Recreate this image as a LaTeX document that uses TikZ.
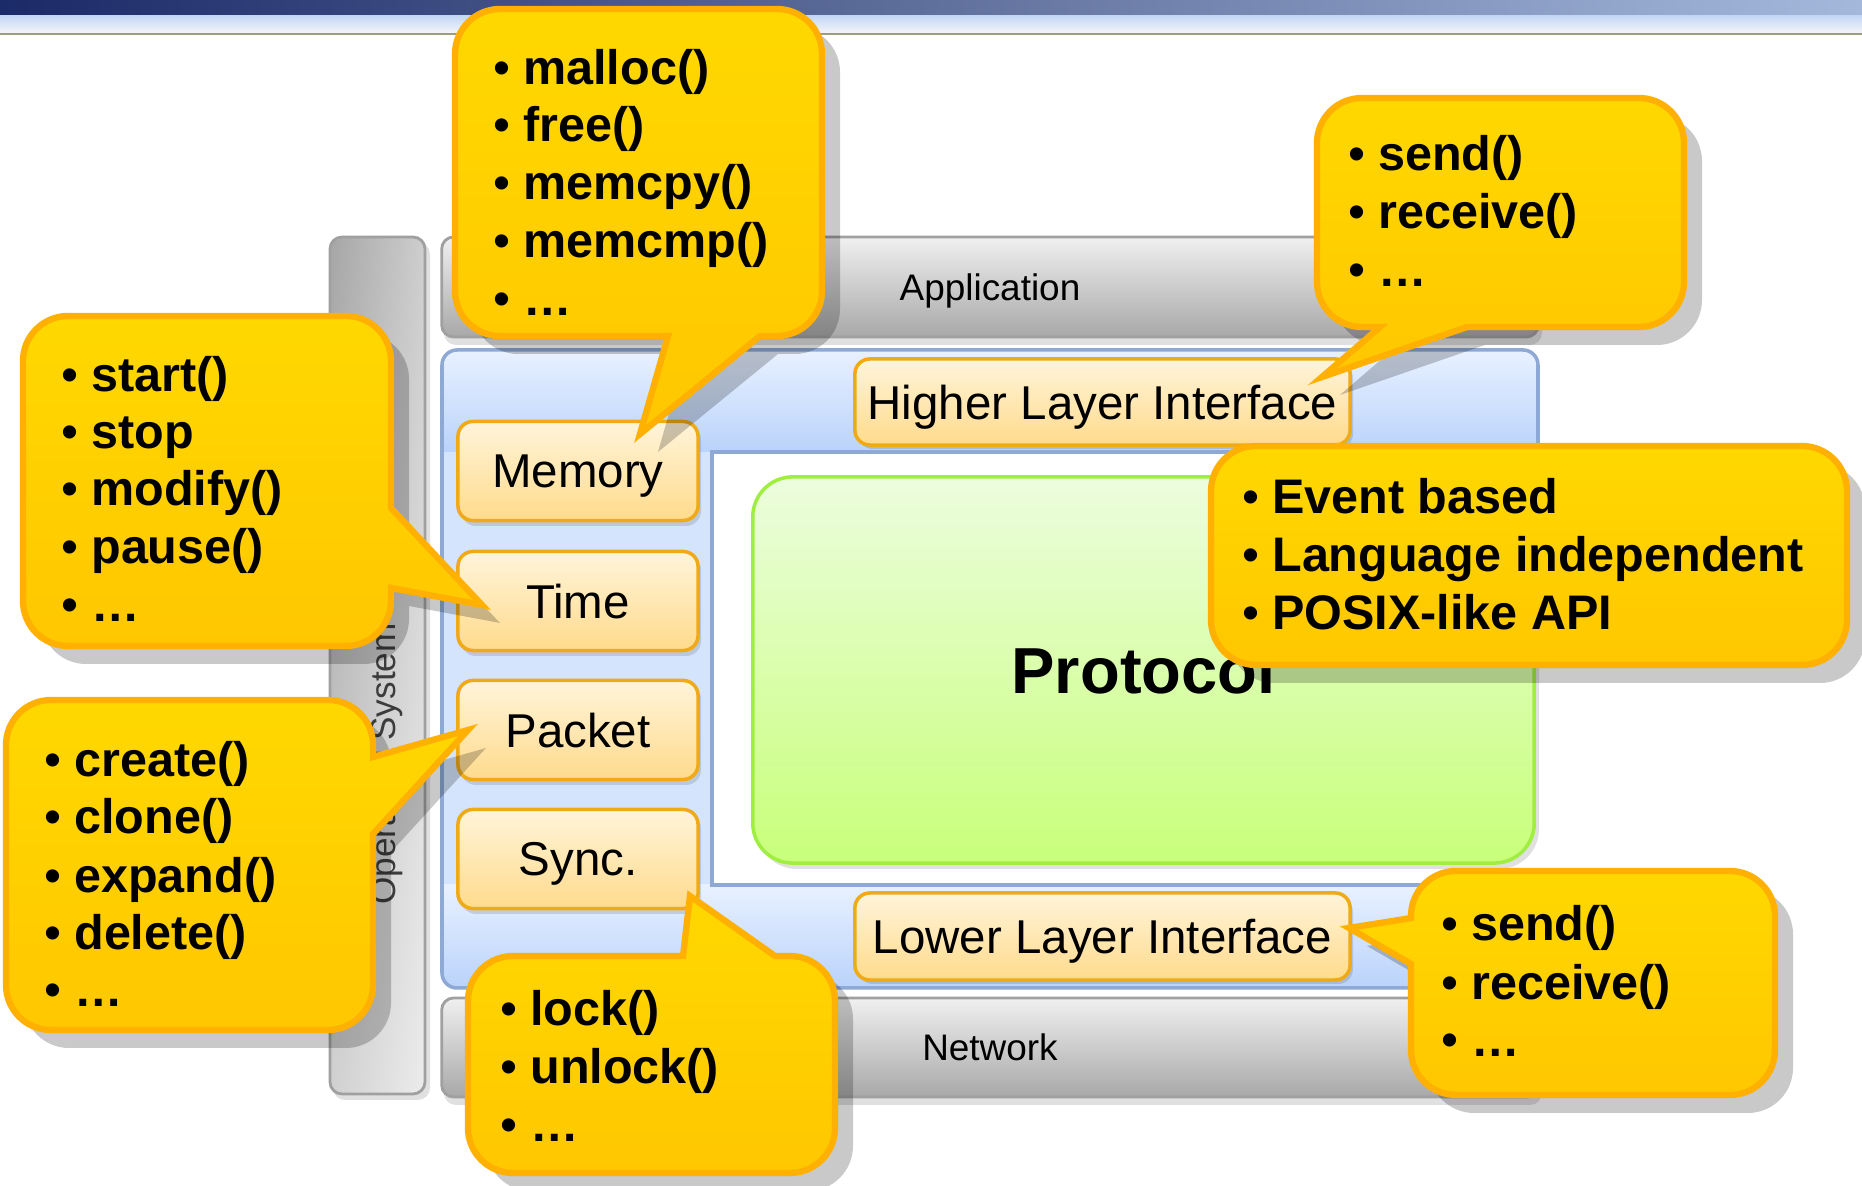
\documentclass[tikz,border=0pt]{standalone}
\usepackage{fontspec}
\setmainfont{Liberation Sans}
\usetikzlibrary{shadings}
\definecolor{hdrL}{RGB}{27,42,104}
\definecolor{hdrM}{RGB}{96,112,156}
\definecolor{hdrR}{RGB}{164,184,220}
\definecolor{bandT}{RGB}{196,216,246}
\definecolor{bandB}{RGB}{244,245,247}
\definecolor{oliveline}{RGB}{156,156,128}
\definecolor{grayT}{RGB}{240,240,240}
\definecolor{grayB}{RGB}{168,168,168}
\definecolor{grayE}{RGB}{160,160,160}
\definecolor{osUL}{RGB}{166,166,166}
\definecolor{osUR}{RGB}{206,206,206}
\definecolor{osLL}{RGB}{208,208,208}
\definecolor{osLR}{RGB}{236,236,236}
\definecolor{blueE}{RGB}{142,169,212}
\definecolor{blueT}{RGB}{232,241,255}
\definecolor{blueB}{RGB}{186,211,251}
\definecolor{blueM}{RGB}{212,228,252}
\definecolor{grnT}{RGB}{236,253,222}
\definecolor{grnB}{RGB}{200,255,122}
\definecolor{grnE}{RGB}{160,238,64}
\definecolor{ifT}{RGB}{255,244,218}
\definecolor{ifB}{RGB}{255,219,140}
\definecolor{ifE}{RGB}{240,170,24}
\definecolor{calT}{RGB}{255,216,0}
\definecolor{calB}{RGB}{255,199,0}
\definecolor{calE}{RGB}{255,176,0}
\definecolor{ostext}{RGB}{60,60,60}
\newcommand\bu{{\mdseries\textbullet}\hspace{3.6pt}}
\def\pathA{(638,9) -- (777,9) arc[start angle=-90,end angle=0,radius=45] -- (822,291) arc[start angle=0,end angle=90,radius=45] -- (760,336) -- (640,434) -- (668,336) -- (500,336) arc[start angle=90,end angle=180,radius=45] -- (455,54) arc[start angle=180,end angle=270,radius=45] -- cycle}
\def\pathB{(1500,98) -- (1639,98) arc[start angle=-90,end angle=0,radius=45] -- (1684,282) arc[start angle=0,end angle=90,radius=45] -- (1467,327) -- (1322,377) -- (1380,327) -- (1362,327) arc[start angle=90,end angle=180,radius=45] -- (1317,143) arc[start angle=180,end angle=270,radius=45] -- cycle}
\def\pathC{(200,316) -- (346,316) arc[start angle=-90,end angle=0,radius=45] -- (391,508) -- (482,605) -- (391,588) -- (391,601) arc[start angle=0,end angle=90,radius=45] -- (68,646) arc[start angle=90,end angle=180,radius=45] -- (23,361) arc[start angle=180,end angle=270,radius=45] -- cycle}
\def\pathD{(190,700) -- (328,700) arc[start angle=-90,end angle=0,radius=45] -- (373,757) -- (468,730) -- (373,834) -- (373,985) arc[start angle=0,end angle=90,radius=45] -- (51,1030) arc[start angle=90,end angle=180,radius=45] -- (6,745) arc[start angle=180,end angle=270,radius=45] -- cycle}
\def\pathE{(513,956) -- (683,956) -- (690,896) -- (775,956) -- (790,956) arc[start angle=-90,end angle=0,radius=45] -- (835,1128) arc[start angle=0,end angle=90,radius=45] -- (513,1173) arc[start angle=90,end angle=180,radius=45] -- (468,1001) arc[start angle=180,end angle=270,radius=45] -- cycle}
\def\pathF{[rounded corners=0.45cm] (1211,446) rectangle (1847,665)}
\def\pathG{(1600,871) -- (1730,871) arc[start angle=-90,end angle=0,radius=45] -- (1775,1050) arc[start angle=0,end angle=90,radius=45] -- (1456,1095) arc[start angle=90,end angle=180,radius=45] -- (1411,964) -- (1349,928) -- (1411,918) -- (1411,916) arc[start angle=180,end angle=270,radius=45] -- cycle}
\begin{document}
\begin{tikzpicture}[x=0.01cm,y=-0.01cm,
  ifbox/.style={draw=ifE, line width=1pt, rounded corners=0.15cm, top color=ifT, bottom color=ifB,
    font=\fontsize{13.5}{15}\selectfont, inner sep=0pt, text depth=0pt},
  graybar/.style={draw=grayE, line width=0.8pt, rounded corners=0.12cm, top color=grayT, bottom color=grayB,
    font=\fontsize{10.5}{12}\selectfont, inner sep=0pt, text depth=0pt},
  callout/.style={draw=calE, line width=1.8pt, top color=calT, bottom color=calB},
  cshadow/.style={fill=black, opacity=0.21},
  softshadow/.style={fill=black, opacity=0.12},
  ctext/.style={anchor=base west, inner sep=0pt, font=\fontsize{13.8}{16}\selectfont\bfseries}]
\useasboundingbox (0,0) rectangle (1862,1186);
\fill[white] (0,0) rectangle (1862,1186);
% header
\shade[left color=hdrL, right color=hdrR, middle color=hdrM] (0,0) rectangle (1862,16);
\shade[top color=bandT, bottom color=bandB] (0,16) rectangle (1862,33);
\fill[oliveline] (0,33) rectangle (1862,35.5);
% operating system bar
\fill[softshadow, rounded corners=0.12cm] (333,242) rectangle (430,1100);
\shade[upper left=osUL, upper right=osUR, lower left=osLL, lower right=osLR, rounded corners=0.12cm] (330,237) rectangle (425,1094);
\draw[grayE, line width=0.8pt, rounded corners=0.12cm] (330,237) rectangle (425,1094);
\node[rotate=90, text=ostext, font=\fontsize{10}{12}\selectfont, inner sep=0pt] (ostxt) at (386,764) {Operating System};
% application and network bars
\fill[softshadow, rounded corners=0.12cm] (444,243) rectangle (1542,345);
\node[graybar, minimum width=10.96cm, minimum height=1.0cm] (app) at (990,287) {Application};
\fill[softshadow, rounded corners=0.12cm] (444,1004) rectangle (1542,1105);
\node[graybar, minimum width=10.96cm, minimum height=0.99cm] (net) at (990,1047.5) {Network};
% blue frame
\begin{scope}
\clip[rounded corners=0.15cm] (442,350) rectangle (1538,988);
\fill[blueM] (442,350) rectangle (1538,988);
\shade[top color=blueT, bottom color=blueB] (442,350) rectangle (1538,452);
\shade[top color=blueT, bottom color=blueB] (442,885) rectangle (1538,988);
\end{scope}
\draw[blueE, line width=1pt, rounded corners=0.15cm] (442,350) rectangle (1538,988);
\fill[white] (712,452) rectangle (1560,885);
\draw[blueE, line width=1.3pt] (1538,452) -- (712,452) -- (712,885) -- (1538,885);
% protocol
\fill[softshadow, rounded corners=0.4cm] (757,482) rectangle (1539,869);
\node[draw=grnE, line width=1pt, rounded corners=0.4cm, top color=grnT, bottom color=grnB,
  minimum width=7.81cm, minimum height=3.86cm, inner sep=0pt,
  font=\fontsize{18.5}{20}\selectfont\bfseries] (proto) at (1143.5,670) {Protocol};
% interface boxes
\foreach \yy in {471,601,730,859} {\fill[softshadow, rounded corners=0.15cm] (461,\yy-46) rectangle (701,\yy+55);}
\fill[softshadow, rounded corners=0.15cm] (858,363) rectangle (1353,449);
\fill[softshadow, rounded corners=0.15cm] (858,897) rectangle (1353,984);
\node[ifbox, minimum width=2.40cm, minimum height=0.99cm] (mem) at (578,471) {Memory};
\node[ifbox, minimum width=2.40cm, minimum height=0.99cm] (time) at (578,601) {Time};
\node[ifbox, minimum width=2.40cm, minimum height=0.99cm] (pkt) at (578,730) {Packet};
\node[ifbox, minimum width=2.40cm, minimum height=0.99cm] (sync) at (578,859) {Sync.};
\node[ifbox, minimum width=4.95cm, minimum height=0.86cm] (hli) at (1102.5,402) {Higher Layer Interface};
\node[ifbox, minimum width=4.95cm, minimum height=0.87cm] (lli) at (1102.5,936.5) {Lower Layer Interface};
% callouts
\fill[cshadow, shift={(18,18)}] \pathA;
\path[callout] \pathA;
\node[ctext] (a1) at (493,85) {\bu malloc()};
\node[ctext] (a2) at (493,142) {\bu free()};
\node[ctext] (a3) at (493,200) {\bu memcpy()};
\node[ctext] (a4) at (493,258) {\bu memcmp()};
\node[ctext] (a5) at (493,316) {\bu\textellipsis};
\fill[cshadow, shift={(18,18)}] \pathB;
\path[callout] \pathB;
\node[ctext] (b1) at (1348,171) {\bu send()};
\node[ctext] (b2) at (1348,229) {\bu receive()};
\node[ctext] (b3) at (1348,287) {\bu\textellipsis};
\fill[cshadow, shift={(18,18)}] \pathC;
\path[callout] \pathC;
\node[ctext] (c1) at (61,392) {\bu start()};
\node[ctext] (c2) at (61,449) {\bu stop};
\node[ctext] (c3) at (61,506) {\bu modify()};
\node[ctext] (c4) at (61,564) {\bu pause()};
\node[ctext] (c5) at (61,622) {\bu\textellipsis};
\fill[cshadow, shift={(18,18)}] \pathD;
\path[callout] \pathD;
\node[ctext] (d1) at (44,777) {\bu create()};
\node[ctext] (d2) at (44,834) {\bu clone()};
\node[ctext] (d3) at (44,893) {\bu expand()};
\node[ctext] (d4) at (44,950) {\bu delete()};
\node[ctext] (d5) at (44,1007) {\bu\textellipsis};
\fill[cshadow, shift={(18,18)}] \pathE;
\path[callout] \pathE;
\node[ctext] (e1) at (500,1026) {\bu lock()};
\node[ctext] (e2) at (500,1084) {\bu unlock()};
\node[ctext] (e3) at (500,1142) {\bu\textellipsis};
\fill[cshadow, shift={(18,18)}] \pathF;
\path[callout] \pathF;
\node[ctext] (f1) at (1242,514) {\bu Event based};
\node[ctext] (f2) at (1242,572) {\bu Language independent};
\node[ctext] (f3) at (1242,630) {\bu POSIX-like API};
\fill[cshadow, shift={(18,18)}] \pathG;
\path[callout] \pathG;
\node[ctext] (g1) at (1441,941) {\bu send()};
\node[ctext] (g2) at (1441,1000) {\bu receive()};
\node[ctext] (g3) at (1441,1057) {\bu\textellipsis};
\end{tikzpicture}
\end{document}
